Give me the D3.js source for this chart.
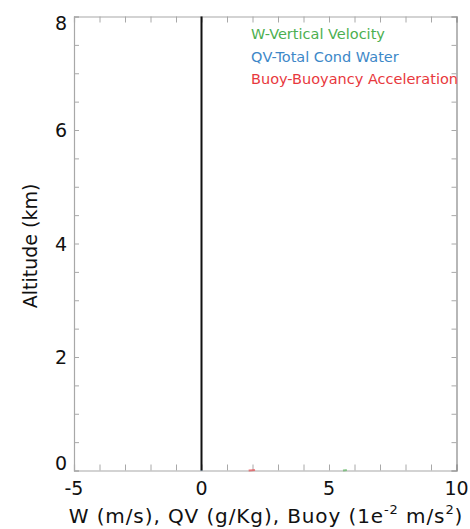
<!DOCTYPE html>
<html>
<head>
<meta charset="utf-8">
<script src="https://cdn.jsdelivr.net/npm/d3@7"></script>
<style>
  body { margin: 0; background: #fff; }
  svg { display: block; font-family: "DejaVu Sans", sans-serif; }
</style>
</head>
<body>
<div id="chart"></div>
<script>
// profile data near the ground (almost nothing visible in the plot)
var altitude = [0.0, 0.01];
var wVals = [5.55, 5.7];
var qvVals = [0.0, 0.0];
var buoyVals = [1.85, 2.1];

var xTicks = [-5, 0, 5, 10];
var yTicks = [0, 2, 4, 6, 8];
var legendNames = ["W-Vertical Velocity", "QV-Total Cond Water", "Buoy-Buoyancy Acceleration"];
var legendColors = ["#4caf50", "#3d88c8", "#e8383d"];

var width = 470, height = 529;
var margin = {top: 16.5, right: 13.5, bottom: 58.5, left: 74};

var svg = d3.select("#chart").append("svg")
    .attr("width", width)
    .attr("height", height);

var x = d3.scaleLinear().domain([-5, 10]).range([margin.left, width - margin.right]);
var y = d3.scaleLinear().domain([0, 8]).range([height - margin.bottom, margin.top]);

var axisColor = "#a8a8a8";

// box + minor ticks
var bottomAxis = svg.append("g")
    .attr("transform", "translate(0," + y(0) + ")")
    .call(d3.axisTop(x).tickValues(d3.range(-5, 10.01, 1)).tickSize(6).tickFormat(""));
var topAxis = svg.append("g")
    .attr("transform", "translate(0," + y(8) + ")")
    .call(d3.axisBottom(x).tickValues(d3.range(-5, 10.01, 1)).tickSize(6).tickFormat(""));
var leftAxis = svg.append("g")
    .attr("transform", "translate(" + x(-5) + ",0)")
    .call(d3.axisRight(y).tickValues(d3.range(0, 8.01, 0.5)).tickSize(5).tickFormat(""));
var rightAxis = svg.append("g")
    .attr("transform", "translate(" + x(10) + ",0)")
    .call(d3.axisLeft(y).tickValues(d3.range(0, 8.01, 0.5)).tickSize(5).tickFormat(""));

[bottomAxis, topAxis, leftAxis, rightAxis].forEach(function(a) {
  a.selectAll("path").attr("stroke", axisColor).attr("stroke-width", 1.2);
  a.selectAll("line").attr("stroke", axisColor);
});
rightAxis.select("path").attr("stroke", "#888");

// tick labels
svg.append("g").selectAll("text")
  .data(xTicks)
  .enter().append("text")
    .attr("x", function(d) { return x(d); })
    .attr("y", 495)
    .attr("text-anchor", "middle")
    .attr("font-size", 19)
    .attr("fill", "#111")
    .text(function(d) { return d; });

svg.append("g").selectAll("text")
  .data(yTicks)
  .enter().append("text")
    .attr("x", 67)
    .attr("y", function(d) {
      if (d == 0) return y(d) - 1;
      if (d == 8) return y(d) + 13;
      return y(d) + 7;
    })
    .attr("text-anchor", "end")
    .attr("font-size", 19)
    .attr("fill", "#111")
    .text(function(d) { return d; });

// profiles
var line = d3.line()
    .x(function(d) { return x(d[0]); })
    .y(function(d) { return y(d[1]); });

var series = [wVals, qvVals, buoyVals];
series.forEach(function(vals, i) {
  svg.append("path")
      .datum(vals.map(function(v, j) { return [v, altitude[j]]; }))
      .attr("fill", "none")
      .attr("stroke", legendColors[i])
      .attr("stroke-opacity", 0.6)
      .attr("stroke-width", 2)
      .attr("d", line);
});

// zero line
svg.append("line")
    .attr("x1", x(0)).attr("x2", x(0))
    .attr("y1", y(0)).attr("y2", y(8))
    .attr("stroke", "#111")
    .attr("stroke-width", 2);

// legend
svg.append("g").selectAll("text")
  .data(legendNames)
  .enter().append("text")
    .attr("x", 251)
    .attr("y", function(d, i) { return 39 + i * 22.5; })
    .attr("font-size", 14.5)
    .attr("fill", function(d, i) { return legendColors[i]; })
    .text(function(d) { return d; });

// axis titles
var xt = svg.append("text")
    .attr("x", 266)
    .attr("y", 523)
    .attr("text-anchor", "middle")
    .attr("font-size", 20)
    .attr("letter-spacing", 0.9)
    .attr("fill", "#111");
xt.append("tspan").text("W (m/s), QV (g/Kg), Buoy (1e");
xt.append("tspan").attr("font-size", 13).attr("dy", -9).text("-2");
xt.append("tspan").attr("dy", 9).text(" m/s");
xt.append("tspan").attr("font-size", 13).attr("dy", -9).text("2");
xt.append("tspan").attr("dy", 9).text(")");

svg.append("text")
    .attr("transform", "translate(37,246) rotate(-90)")
    .attr("text-anchor", "middle")
    .attr("font-size", 19)
    .attr("fill", "#111")
    .text("Altitude (km)");
</script>
</body>
</html>
